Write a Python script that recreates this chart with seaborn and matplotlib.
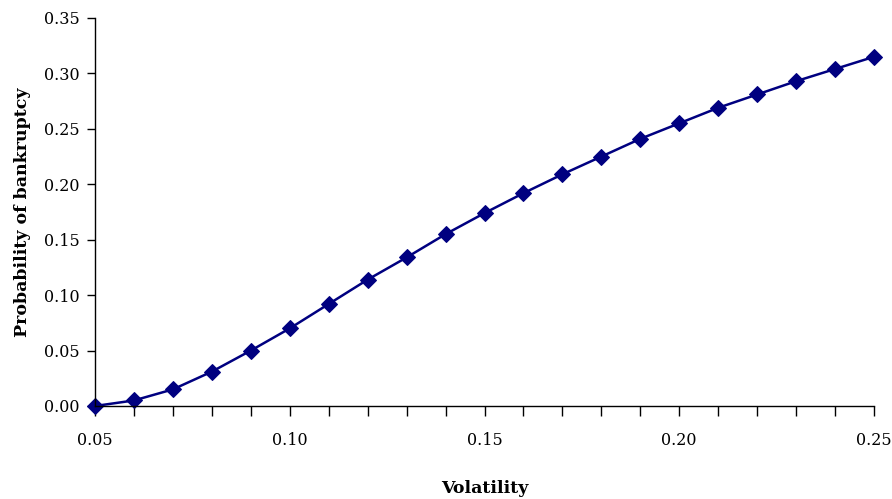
import numpy as np
import pandas as pd
import seaborn as sns
from matplotlib import pyplot as plt
from matplotlib.ticker import MultipleLocator, FormatStrFormatter

# volatility values and the probability
volatility = [0.05, 0.06, 0.07, 0.08, 0.09, 0.10, 0.11, 0.12, 0.13, 0.14, 0.15,
              0.16, 0.17, 0.18, 0.19, 0.20, 0.21, 0.22, 0.23, 0.24, 0.25]
prob_bankruptcy = [0.000, 0.005, 0.015, 0.031, 0.050, 0.070, 0.092, 0.114, 0.134, 0.155, 0.174,
                   0.192, 0.209, 0.225, 0.241, 0.255, 0.269, 0.281, 0.293, 0.304, 0.315]

df = pd.DataFrame({"Volatility": volatility, "Probability": prob_bankruptcy})

sns.set_style("white", {"text.color": "black", "axes.labelcolor": "black",
                        "xtick.color": "black", "ytick.color": "black"})
plt.rcParams['font.family'] = ['DejaVu Serif']

fig = plt.figure(figsize=(8.92, 4.99), dpi=100)
ax = fig.add_axes([95/892, 1 - 406/499, (874 - 95)/892, (406 - 18)/499])

sns.lineplot(data=df, x="Volatility", y="Probability", ax=ax, color="#000080",
             marker="D", markersize=8, markeredgecolor="#000080", linewidth=1.8,
             clip_on=False)

ax.set_xlim(0.05, 0.25)
ax.set_ylim(0, 0.35)
ax.xaxis.set_major_locator(MultipleLocator(0.05))
ax.xaxis.set_minor_locator(MultipleLocator(0.01))
ax.yaxis.set_major_locator(MultipleLocator(0.05))
ax.xaxis.set_major_formatter(FormatStrFormatter('%.2f'))
ax.yaxis.set_major_formatter(FormatStrFormatter('%.2f'))

ax.tick_params(axis='x', which='both', direction='out', length=7, width=1,
               color='black', labelcolor='black', bottom=True, labelsize=11.5, pad=12)
ax.tick_params(axis='y', which='major', direction='out', length=6, width=1,
               color='black', labelcolor='black', left=True, labelsize=11.5, pad=5)

for side in ['top', 'right']:
    ax.spines[side].set_visible(False)
for side in ['left', 'bottom']:
    ax.spines[side].set_color('black')
    ax.spines[side].set_linewidth(1)

ax.set_xlabel("Volatility", fontsize=12.5, fontweight='bold', labelpad=22, color='black')
ax.set_ylabel("Probability of bankruptcy", fontsize=12.5, fontweight='bold', labelpad=9, color='black')

fig.savefig("out.png", dpi=100)
